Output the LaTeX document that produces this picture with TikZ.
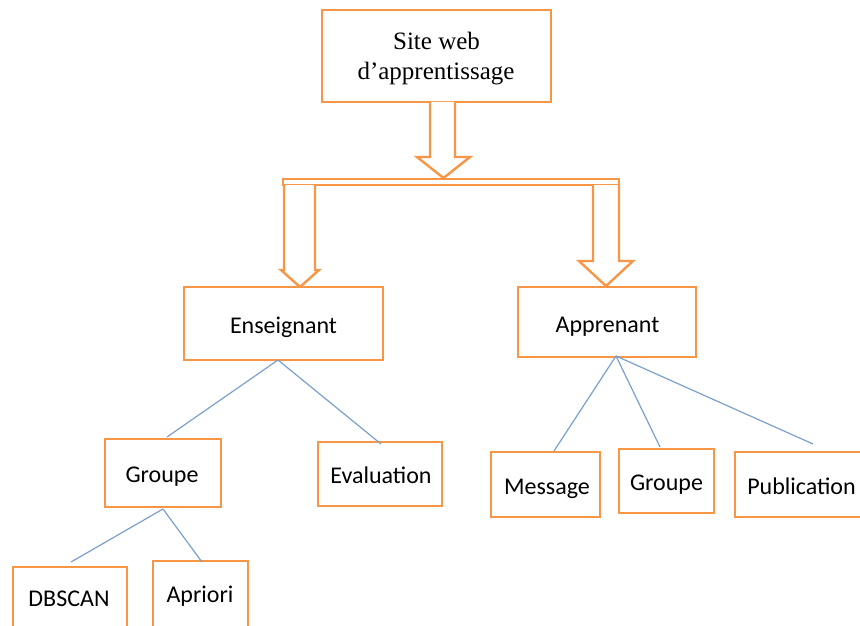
\documentclass[tikz,border=0pt]{standalone}
\usepackage{fontspec}
\setmainfont{Liberation Serif}
\newfontfamily\calib{Carlito}
\definecolor{org}{HTML}{F79646}
\definecolor{lnk}{HTML}{7BA0CD}
\begin{document}
\begin{tikzpicture}[x=1pt,y=-1pt,
  box/.style={draw=org,line width=2.6pt,fill=white,inner sep=0pt},
  lbl/.style={anchor=base,inner sep=0pt,font=\calib\fontsize{24}{28}\selectfont},
  slbl/.style={anchor=base,inner sep=0pt,font=\fontsize{25}{30}\selectfont},
  link/.style={draw=lnk,line width=1.2pt},
  fatarrow/.style={draw=org,line width=2.4pt,fill=white,line join=miter}]
\clip (0,0) rectangle (860,626);
\fill[white] (0,0) rectangle (860,626);
% top box
\node[box,minimum width=229pt,minimum height=92pt] (site) at (436.5,56) {};
\node[slbl] (siteA) at (436.5,50) {Site web};
\node[slbl] (siteB) at (436,80) {d’apprentissage};
% arrows
\draw[fatarrow] (430,102) -- (430,157) -- (417,157) -- (443.5,178) -- (470,157) -- (455,157) -- (455,102);
\draw[fatarrow] (283,179) rectangle (619,185);
\draw[fatarrow] (284,185) -- (284,270) -- (281,270) -- (300,287) -- (319,270) -- (315,270) -- (315,185);
\draw[fatarrow] (593,185) -- (593,261) -- (579,261) -- (606,286) -- (633,261) -- (619,261) -- (619,185);
% level 1
\node[box,minimum width=199pt,minimum height=73pt] (ens) at (283.5,323.5) {};
\node[lbl] (ensT) at (283.5,333) {Enseignant};
\node[box,minimum width=178pt,minimum height=70pt] (app) at (607,322) {};
\node[lbl] (appT) at (607.5,332) {Apprenant};
% level 2
\node[box,minimum width=116pt,minimum height=68pt] (grpA) at (163,473) {};
\node[lbl] (grpAT) at (162,482) {Groupe};
\node[box,minimum width=124pt,minimum height=64pt] (eval) at (380,474) {};
\node[lbl] (evalT) at (381,483) {Evaluation};
\node[box,minimum width=109pt,minimum height=65pt] (msg) at (545.5,484.5) {};
\node[lbl] (msgT) at (547,494) {Message};
\node[box,minimum width=95pt,minimum height=64pt] (grpB) at (666.5,481) {};
\node[lbl] (grpBT) at (666.5,490) {Groupe};
\node[box,minimum width=150pt,minimum height=65pt] (pub) at (810,484.5) {};
\node[lbl] (pubT) at (801.5,494) {Publication};
% level 3
\node[box,minimum width=114pt,minimum height=80pt] (dbs) at (70,607) {};
\node[lbl] (dbsT) at (69,606) {DBSCAN};
\node[box,minimum width=95pt,minimum height=80pt] (apr) at (200.5,601) {};
\node[lbl] (aprT) at (200,602) {Apriori};
% link ends
\coordinate (e0) at (278,360);
\coordinate (a0) at (616,356);
\coordinate (g0) at (163,509);
\coordinate (tgA) at (167,437);
\coordinate (tev) at (381,444);
\coordinate (tms) at (554,451);
\coordinate (tgB) at (660,447);
\coordinate (tpb) at (813,444);
\coordinate (tdb) at (71,562);
\coordinate (tap) at (202,562);
\draw[link] (e0) -- (tgA);
\draw[link] (e0) -- (tev);
\draw[link] (a0) -- (tms);
\draw[link] (a0) -- (tgB);
\draw[link] (a0) -- (tpb);
\draw[link] (g0) -- (tdb);
\draw[link] (g0) -- (tap);
\end{tikzpicture}
\end{document}
